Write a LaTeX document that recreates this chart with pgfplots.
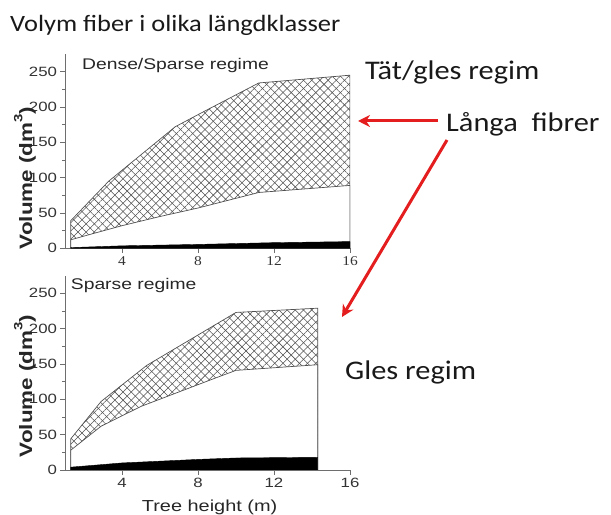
\documentclass[border=0pt]{standalone}
\usepackage{fontspec}
\usepackage{pgfplots}
\pgfplotsset{compat=1.18}
\usetikzlibrary{arrows.meta, patterns.meta}
\setmainfont{Carlito}
\newfontfamily\calib[FakeStretch=1.13]{Carlito}
\newfontfamily\chartfont[FakeStretch=1.25]{Liberation Sans}
\newfontfamily\serifticks[FakeStretch=1.15]{Liberation Serif}
\definecolor{arrowred}{RGB}{228,30,30}
\definecolor{axisgray}{HTML}{6E6E6E}
\definecolor{hatchgray}{HTML}{505050}
\newcommand{\volabel}{Volume (dm\raisebox{0.55em}{\fontsize{12}{12}\selectfont 3})}

\pgfplotsset{
  panel/.style={
    scale only axis, width=285bp, height=194.3bp,
    xmin=1, xmax=16, ymin=0, ymax=275,
    axis x line*=bottom, axis y line*=left,
    axis line style={axisgray, line width=0.7pt},
    tick style={axisgray, line width=0.6pt},
    tick align=outside,
    major tick length=4.5bp, minor tick length=2.5bp,
    xtick={4,8,12,16}, ytick={0,50,...,250},
    minor y tick num=1,
    /pgf/number format/assume math mode=true,
    yticklabel style={font=\chartfont\fontsize{13.5}{13.5}\selectfont, text=black!80},
  },
  hatchA/.style={draw=hatchgray, line width=0.7pt,
    pattern={Lines[angle=45,distance=5.8bp,line width=0.55bp]}, pattern color=hatchgray},
  hatchB/.style={draw=none,
    pattern={Lines[angle=-45,distance=5.8bp,line width=0.55bp]}, pattern color=hatchgray},
  whitearea/.style={draw=hatchgray, line width=0.7pt, fill=white},
  blackarea/.style={draw=black, line width=0.4pt, fill=black},
}

\begin{document}
\begin{tikzpicture}
\useasboundingbox (0,0) rectangle (611bp,515bp);

% upper panel: dense/sparse
\begin{axis}[panel, at={(65bp,266.7bp)}, anchor=south west,
  xticklabel style={font=\serifticks\fontsize{13.5}{13.5}\selectfont, text=black!80}]
  \addplot[hatchA] coordinates {(1.3,39) (3.3,95) (6.8,172) (8.2,192) (11.2,234) (16,245)} \closedcycle;
  \addplot[hatchB] coordinates {(1.3,39) (3.3,95) (6.8,172) (8.2,192) (11.2,234) (16,245)} \closedcycle;
  \addplot[whitearea] coordinates {(1.3,12) (2.5,21) (4,32) (6,45) (8,57) (11.2,79) (16,89)} \closedcycle;
  \addplot[blackarea] coordinates {(1.3,1) (4,3.5) (8,5.5) (12,8) (16,9.5)} \closedcycle;
\end{axis}

% lower panel: sparse
\begin{axis}[panel, at={(65bp,45bp)}, anchor=south west,
  xticklabel style={font=\chartfont\fontsize{13.5}{13.5}\selectfont, text=black!80}]
  \addplot[hatchA] coordinates {(1.3,44) (2.9,97) (5.3,148) (10,223) (14.3,229)} \closedcycle;
  \addplot[hatchB] coordinates {(1.3,44) (2.9,97) (5.3,148) (10,223) (14.3,229)} \closedcycle;
  \addplot[whitearea] coordinates {(1.3,28) (2.9,62) (5,90) (8.9,130) (10,141) (14.3,149)} \closedcycle;
  \addplot[blackarea] coordinates {(1.3,4) (4,10) (8,15) (10,17) (14.3,18)} \closedcycle;
\end{axis}

% panel texts
\node[anchor=base west, inner sep=0pt, text=black!85, font=\chartfont\fontsize{15.5}{15.5}\selectfont]
  at (82bp,445.7bp) {Dense/Sparse regime};
\node[anchor=base west, inner sep=0pt, text=black!85, font=\chartfont\fontsize{15.5}{15.5}\selectfont]
  at (70.7bp,225bp) {Sparse regime};
\node[anchor=base west, inner sep=0pt, text=black!85, font=\chartfont\fontsize{16}{16}\selectfont]
  at (141.7bp,4bp) {Tree height (m)};
\node[rotate=90, inner sep=0pt, text=black!85, font=\chartfont\bfseries\fontsize{18}{18}\selectfont]
  at (25bp,337bp) {\volabel};
\node[rotate=90, inner sep=0pt, text=black!85, font=\chartfont\bfseries\fontsize{18}{18}\selectfont]
  at (25bp,129bp) {\volabel};

% slide texts
\node[anchor=base west, inner sep=0pt, text=black!90, font=\calib\fontsize{23.5}{23.5}\selectfont]
  at (10bp,483bp) {Volym fiber i olika längdklasser};
\node[anchor=base west, inner sep=0pt, text=black!90, font=\calib\fontsize{27}{27}\selectfont]
  at (365bp,435bp) {Tät/gles regim};
\node[anchor=base west, inner sep=0pt, text=black!90, font=\calib\fontsize{27}{27}\selectfont]
  at (446bp,383bp) {Långa\ \ fibrer};
\node[anchor=base west, inner sep=0pt, text=black!90, font=\calib\fontsize{27}{27}\selectfont]
  at (345bp,135bp) {Gles regim};

% red arrows
\draw[arrowred, line width=3bp, -{Stealth[length=12bp,width=12bp]}] (438bp,394bp) -- (358bp,394bp);
\draw[arrowred, line width=3bp, -{Stealth[length=12bp,width=12bp]}] (447bp,375bp) -- (342bp,198bp);
\end{tikzpicture}
\end{document}
